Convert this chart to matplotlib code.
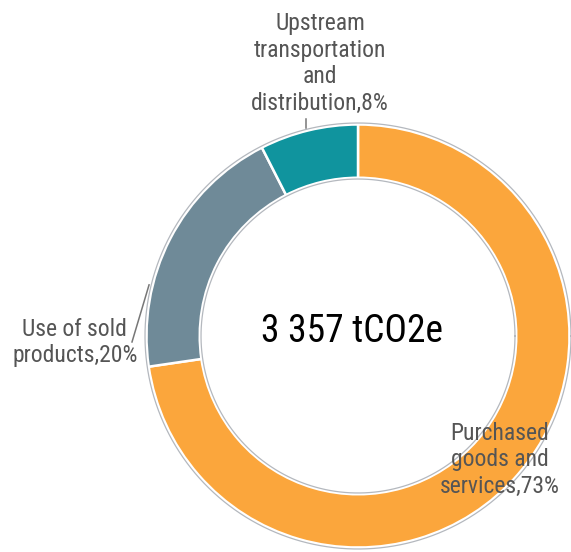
import matplotlib
matplotlib.use('Agg')
import matplotlib.pyplot as plt
import numpy as np

# scope 3 emissions, tCO2e
categories = ['Purchased\ngoods and\nservices', 'Use of sold\nproducts',
              'Upstream\ntransportation\nand\ndistribution']
values = [2440, 665, 252]
colors = ['#FBA63C', '#6F8A98', '#10949E']
total_label = '3 357 tCO2e'

plt.rcParams['font.family'] = ['Roboto Condensed', 'Roboto', 'DejaVu Sans']

# figure is 571x552 px, ring centre at (358, 336) px, outer radius 213 px
fig = plt.figure(figsize=(5.71, 5.52), dpi=100)
ax = fig.add_axes([0, 0, 1, 1])

ax.pie(values, colors=colors, startangle=90, counterclock=False,
       radius=0.993, wedgeprops=dict(width=0.25, edgecolor='white', linewidth=1.8))

# thin grey outlines around the ring
theta = np.linspace(0, 2 * np.pi, 400)
for r in (1.0, 0.737):
    ax.plot(r * np.cos(theta), r * np.sin(theta), color='#B4B8BE', lw=0.9)

pct = [round(100 * v / sum(values)) for v in values]
labels = ['%s,%d%%' % (c, p) for c, p in zip(categories, pct)]

label_kw = dict(ha='center', va='center', fontsize=17, color='#555555',
                linespacing=1.2)
ax.text(0.667, -0.582, labels[0], **label_kw)
ax.text(-1.329, -0.031, labels[1], **label_kw)
ax.text(-0.178, 1.279, labels[2], **label_kw)

# leader lines
ax.plot([-1.061, -0.981], [-0.028, 0.240], color='#777777', lw=1.1)
ax.plot([-0.244, -0.244], [0.975, 1.02], color='#777777', lw=1.1)

ax.text(-0.028, 0.019, total_label, ha='center', va='center', fontsize=27,
        color='black')

ax.set_xlim(-358 / 213, 213 / 213)
ax.set_ylim(-216 / 213, 336 / 213)
ax.set_aspect('auto')
ax.axis('off')

fig.savefig('out.png')
